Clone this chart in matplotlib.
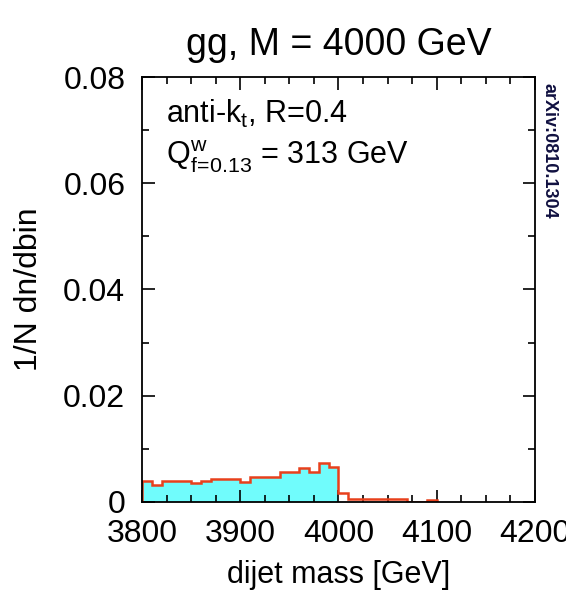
import numpy as np
import matplotlib
matplotlib.use('Agg')
import matplotlib.pyplot as plt
from matplotlib.ticker import MultipleLocator

plt.rcParams['font.family'] = ['Liberation Sans', 'DejaVu Sans']
plt.rcParams['mathtext.fontset'] = 'custom'
plt.rcParams['mathtext.rm'] = 'Liberation Sans'
plt.rcParams['mathtext.it'] = 'Liberation Sans'

# dijet mass histogram, 10 GeV bins
bin_edges = np.arange(3800, 4101, 10)
bin_values = [0.0039, 0.0032, 0.0040, 0.0040, 0.0040, 0.0036, 0.0040, 0.0044,
              0.0044, 0.0044, 0.0037, 0.0047, 0.0047, 0.0047, 0.0056, 0.0056,
              0.0064, 0.0056, 0.0073, 0.0065,
              0.0016, 0.0005, 0.0005, 0.0005, 0.0005, 0.0005, 0.0005,
              0.0, 0.0, 0.0004]
window_max = 4000  # fill up to here

title = 'gg, M = 4000 GeV'
x_label = 'dijet mass [GeV]'
y_label = '1/N dn/dbin'

fig = plt.figure(figsize=(5.66, 6.04), dpi=100)
ax = fig.add_axes([0.2509, 0.1689, 0.6943, 0.7036])

vals = np.array(bin_values)
nfill = int(np.sum(bin_edges[:-1] < window_max))
ax.stairs(vals[:nfill], bin_edges[:nfill + 1], fill=True, color='#70fcfc', zorder=1)
ax.stairs(vals, bin_edges, color='#e8401c', lw=1.8, zorder=2)

ax.set_xlim(3800, 4200)
ax.set_ylim(0, 0.08)
ax.xaxis.set_major_locator(MultipleLocator(100))
ax.xaxis.set_minor_locator(MultipleLocator(25))
ax.yaxis.set_major_locator(MultipleLocator(0.02))
ax.yaxis.set_minor_locator(MultipleLocator(0.01))
ax.yaxis.set_major_formatter(plt.FuncFormatter(lambda v, p: '0' if v == 0 else '%.2f' % v))
ax.tick_params(which='both', direction='in', top=True, right=True, labelsize=23, width=1.2)
ax.tick_params(which='major', length=9, pad=12)
ax.tick_params(which='minor', length=5)
for s in ax.spines.values():
    s.set_linewidth(1.3)
    s.set_zorder(3)

ax.set_xlabel(x_label, fontsize=22, labelpad=8)
ax.set_ylabel(y_label, fontsize=23, labelpad=14)
ax.set_title(title, fontsize=27, pad=16)

ax.text(0.06, 0.95, r'anti-k$_\mathregular{t}$, R=0.4', transform=ax.transAxes,
        fontsize=22, va='top')
ax.text(0.06, 0.855, r'Q$^\mathregular{w}_\mathregular{f\!=\!0.13}$ = 313 GeV', transform=ax.transAxes,
        fontsize=22, va='top')
fig.text(0.970, 0.862, 'arXiv:0810.1304', rotation=-90, fontsize=13,
         color='#101040', va='top', ha='center', fontweight='bold')

fig.savefig('out.png', dpi=100)
